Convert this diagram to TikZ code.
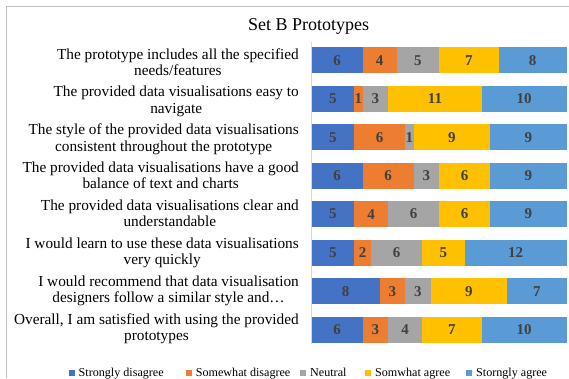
\documentclass[tikz,border=0pt]{standalone}
\usepackage{fontspec}
\setmainfont{Liberation Serif}
\definecolor{cA}{HTML}{4472C4}
\definecolor{cB}{HTML}{ED7D31}
\definecolor{cC}{HTML}{A5A5A5}
\definecolor{cD}{HTML}{FFC000}
\definecolor{cE}{HTML}{5B9BD5}
\definecolor{numc}{HTML}{404040}
\definecolor{framec}{HTML}{BFBFBF}
\definecolor{axisc}{HTML}{D9D9D9}
\newcommand\segnode[5]{% name, left x, value, y, colour
  \node[segbox,fill=#5,minimum width={#3*8.5pt}] (#1) at ({#2+#3*4.25},#4) {#3};}
\newcommand\barrow[7]{% name, y, five values
  \pgfmathsetmacro\bxA{311.7}
  \pgfmathsetmacro\bxB{\bxA+#3*8.5}
  \pgfmathsetmacro\bxC{\bxB+#4*8.5}
  \pgfmathsetmacro\bxD{\bxC+#5*8.5}
  \pgfmathsetmacro\bxE{\bxD+#6*8.5}
  \segnode{#1a}{\bxA}{#3}{#2}{cA}
  \segnode{#1b}{\bxB}{#4}{#2}{cB}
  \segnode{#1c}{\bxC}{#5}{#2}{cC}
  \segnode{#1d}{\bxD}{#6}{#2}{cD}
  \segnode{#1e}{\bxE}{#7}{#2}{cE}}
\begin{document}
\begin{tikzpicture}[x=1pt,y=-1pt,
  segbox/.style={inner sep=0pt,minimum height=26pt,text=numc,
    font=\fontsize{15}{15}\selectfont\bfseries},
  catlabel/.style={anchor=north east,align=center,inner sep=0pt,
    font=\fontsize{15.3}{16.2}\selectfont},
  legsq/.style={inner sep=0pt,minimum size=6pt},
  legtxt/.style={anchor=base west,inner sep=0pt,font=\fontsize{12.1}{14}\selectfont}]
\useasboundingbox (0,0) rectangle (569,378);
\fill[white] (0,0) rectangle (569,378);
% frame
\coordinate (fbl) at (6.5,378);
\coordinate (ftl) at (6.5,6.5);
\coordinate (ftr) at (569,6.5);
\draw[framec,line width=0.8pt] (fbl) -- (ftl) -- (ftr);
% title
\node[anchor=base,inner sep=0pt,font=\fontsize{18}{20}\selectfont] (title) at (308.5,30) {Set B Prototypes};
% axis
\coordinate (axt) at (311.5,42);
\coordinate (axb) at (311.5,343.5);
\draw[axisc,line width=0.8pt] (axt) -- (axb);
% bars
\barrow{r1}{60.3}{6}{4}{5}{7}{8}
\barrow{r2}{98.8}{5}{1}{3}{11}{10}
\barrow{r3}{137.2}{5}{6}{1}{9}{9}
\barrow{r4}{175.7}{6}{6}{3}{6}{9}
\barrow{r5}{214.1}{5}{4}{6}{6}{9}
\barrow{r6}{252.6}{5}{2}{6}{5}{12}
\barrow{r7}{291.1}{8}{3}{3}{9}{7}
\barrow{r8}{329.5}{6}{3}{4}{7}{10}
% category labels (top of first line)
\node[catlabel] (k1) at (299,48.2) {The prototype includes all the specified\\needs/features};
\node[catlabel] (k2) at (299,86.0) {The provided data visualisations easy to\\navigate};
\node[catlabel] (k3) at (299,123.9) {The style of the provided data visualisations\\consistent throughout the prototype};
\node[catlabel] (k4) at (299,161.8) {The provided data visualisations have a good\\balance of text and charts};
\node[catlabel] (k5) at (299,199.6) {The provided data visualisations clear and\\understandable};
\node[catlabel] (k6) at (299,237.5) {I would learn to use these data visualisations\\very quickly};
\node[catlabel] (k7) at (299,275.4) {I would recommend that data visualisation\\designers follow a similar style and\ldots};
\node[catlabel] (k8) at (299,313.2) {Overall, I am satisfied with using the provided\\prototypes};
% legend
\node[legsq,fill=cA] (q1) at (71.5,372.5) {};
\node[legtxt] (t1) at (78.5,376.5) {Strongly disagree};
\node[legsq,fill=cB] (q2) at (188.7,372.5) {};
\node[legtxt] (t2) at (195.7,376.5) {Somewhat disagree};
\node[legsq,fill=cC] (q3) at (303,372.5) {};
\node[legtxt] (t3) at (310,376.5) {Neutral};
\node[legsq,fill=cD] (q4) at (368,372.5) {};
\node[legtxt] (t4) at (375,376.5) {Somwhat agree};
\node[legsq,fill=cE] (q5) at (469,372.5) {};
\node[legtxt] (t5) at (476,376.5) {Storngly agree};
\end{tikzpicture}
\end{document}
